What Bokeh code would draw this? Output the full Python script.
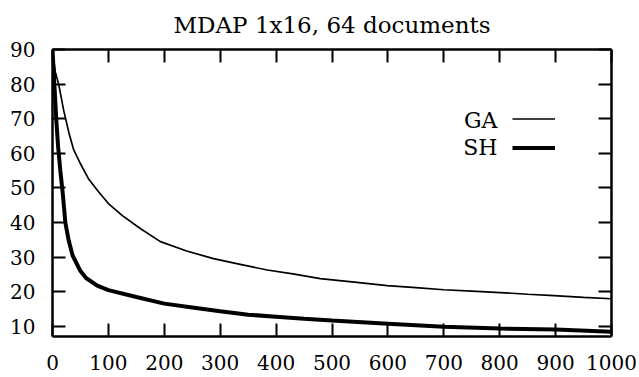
from bokeh.plotting import figure
from bokeh.models import LinearAxis, FixedTicker, Legend, LegendItem, Label
from bokeh.embed import file_html
from bokeh.resources import INLINE

# ---- data ----
ga_x = [0, 2, 5, 11, 20, 30, 38, 50, 65, 82, 100, 125, 157, 193, 240, 288, 340,
        384, 430, 479, 540, 599, 650, 700, 750, 801, 850, 897, 950, 1000]
ga_y = [90, 87, 83.5, 80, 72.4, 65.5, 61, 57, 52.5, 49, 45.5, 42, 38.3, 34.5, 31.8,
        29.6, 27.8, 26.3, 25.2, 23.8, 22.8, 21.8, 21.2, 20.6, 20.2, 19.8, 19.3,
        18.9, 18.4, 18.0]

sh_x = [0, 2, 4, 7, 10, 14, 18, 23, 29, 36, 50, 60, 80, 100, 150, 200, 250, 300,
        350, 400, 450, 500, 600, 700, 800, 900, 1000]
sh_y = [90, 84, 78, 69, 62, 55, 49, 40, 34.8, 30.5, 26, 24, 21.8, 20.5, 18.5, 16.6,
        15.5, 14.4, 13.4, 12.8, 12.2, 11.7, 10.8, 9.9, 9.4, 9.1, 8.5]

x_ticks = [0, 100, 200, 300, 400, 500, 600, 700, 800, 900, 1000]
y_ticks = [10, 20, 30, 40, 50, 60, 70, 80, 90]
series_names = ["GA", "SH"]
title_text = "MDAP 1x16, 64 documents"

FONT = "DejaVu Serif"

p = figure(width=639, height=377, output_backend="svg", toolbar_location=None,
           x_range=(0, 1000), y_range=(7.1, 90),
           x_axis_location=None, y_axis_location=None,
           min_border_left=52, min_border_right=28, min_border_top=49,
           min_border_bottom=41)
p.xgrid.visible = False
p.ygrid.visible = False
p.outline_line_color = None
p.background_fill_color = "white"
p.border_fill_color = "white"

p.title.text = title_text
p.title.text_font = FONT
p.title.text_font_size = "23px"
p.title.text_font_style = "normal"
p.title.text_color = "black"
p.title.align = "center"
p.title.vertical_align = "top"
p.title.standoff = 20

def style_axis(ax, ticks, show_labels, standoff=0):
    ax.ticker = FixedTicker(ticks=ticks)
    ax.axis_line_width = 2.5
    ax.axis_line_color = "black"
    ax.major_tick_in = 13
    ax.major_tick_out = 0
    ax.major_tick_line_width = 2
    ax.minor_tick_in = 0
    ax.minor_tick_out = 0
    ax.major_label_standoff = standoff
    if show_labels:
        ax.major_label_text_font = FONT
        ax.major_label_text_font_size = "20px"
        ax.major_label_text_color = "black"
    else:
        ax.major_label_overrides = {t: "" for t in ticks}
        ax.major_label_text_font_size = "1px"

bottom = LinearAxis()
style_axis(bottom, x_ticks, True, standoff=18)
p.add_layout(bottom, "below")
left = LinearAxis()
style_axis(left, y_ticks, True, standoff=17)
p.add_layout(left, "left")
top = LinearAxis()
style_axis(top, x_ticks, False)
p.add_layout(top, "above")
right = LinearAxis()
style_axis(right, y_ticks, False)
p.add_layout(right, "right")

r_ga = p.line(ga_x, ga_y, line_color="black", line_width=1.7)
r_sh = p.line(sh_x, sh_y, line_color="black", line_width=4)

legend = Legend(items=[LegendItem(label=" ", renderers=[r_ga]),
                       LegendItem(label=" ", renderers=[r_sh])],
                location=(460, 174), orientation="vertical",
                glyph_width=43, glyph_height=29, label_height=29, label_width=1,
                label_standoff=0, spacing=0, padding=0, margin=0,
                border_line_color=None, background_fill_alpha=0,
                label_text_font_size="1px")
p.add_layout(legend, "center")

for name, yv in zip(series_names, [69.5, 61.7]):
    p.add_layout(Label(x=796, y=yv, text=name, text_align="right",
                       text_baseline="middle", text_font=FONT,
                       text_font_size="22px", text_color="black"))

open("out.html", "w").write(file_html(p, INLINE))
